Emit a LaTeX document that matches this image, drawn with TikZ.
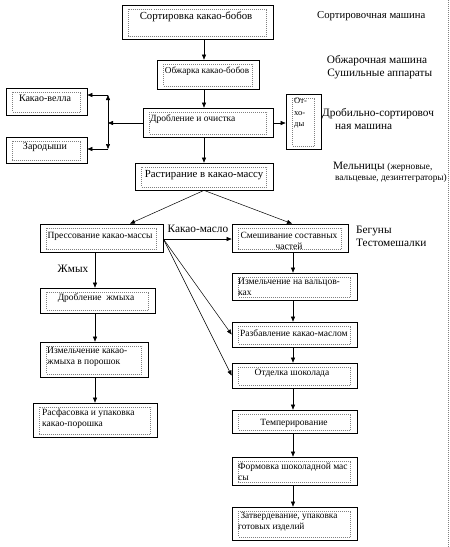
\documentclass[tikz,border=0pt]{standalone}
\usepackage{fontspec}
\setmainfont{Liberation Serif}
\newfontfamily\diagfont{Liberation Serif}
\usetikzlibrary{arrows.meta,calc}
\newcommand\mybox[5]{\node[procbox, minimum width={#4pt-#2pt}, minimum height={#5pt-#3pt}] (#1) at ({(#2+#4)/2},{(#3+#5)/2}) {};}
\tikzset{
  procbox/.style={draw, line width=0.75pt, inner sep=0pt,
    path picture={\draw[gray, line width=0.4pt, dash pattern=on 1pt off 1pt]
      ([shift={(6.5pt,-4pt)}]path picture bounding box.north west) rectangle
      ([shift={(-6.5pt,3pt)}]path picture bounding box.south east);}},
  txt/.style={font=\diagfont\fontsize{9.5}{11}\selectfont, inner sep=0pt},
  bigtxt/.style={font=\diagfont\fontsize{10.8}{12}\selectfont, inner sep=0pt},
  ltxt/.style={txt, anchor=north west, align=left},
  lab/.style={font=\diagfont\fontsize{11.3}{13}\selectfont, inner sep=0pt},
  arr/.style={-{Triangle[length=5pt,width=4pt]}, line width=0.5pt},
  ln/.style={line width=0.5pt}
}
\begin{document}
\begin{tikzpicture}[x=1pt,y=-1pt]
\useasboundingbox (0,0) rectangle (450,547);
\draw[gray, dash pattern=on 1pt off 1pt] (448,0) -- (448,547);
% boxes
\mybox{b1}{122}{5}{273}{39}
\mybox{b2}{157}{60}{259}{89}
\mybox{bv}{6}{88}{87}{115}
\mybox{bz}{6}{137}{87}{163}
\mybox{b3}{143}{108}{273}{137}
\mybox{bo}{286}{94}{321}{149}
\mybox{b4}{135}{163}{273}{190}
\mybox{bp}{40}{224}{163}{252}
\mybox{bs}{232}{224}{348}{252}
\mybox{bdz}{40}{288}{155}{313}
\mybox{bik}{40}{342}{148}{377}
\mybox{brf}{33}{403}{157}{437}
\mybox{biv}{232}{273}{357}{300}
\mybox{brz}{232}{322}{357}{347}
\mybox{bot}{232}{363}{357}{388}
\mybox{btm}{232}{410}{357}{433}
\mybox{bfm}{232}{457}{357}{485}
\mybox{bzt}{232}{507}{357}{540}
% box texts
\node[bigtxt] (t1) at (196,17) {Сортировка какао-бобов};
\node[txt, font=\diagfont\fontsize{9.2}{11}\selectfont] (t2) at (207,71) {Обжарка какао-бобов};
\node[txt, font=\diagfont\fontsize{10}{11}\selectfont] (tv) at (45,98) {Какао-велла};
\node[txt, font=\diagfont\fontsize{10}{11}\selectfont] (tz) at (45,147) {Зародыши};
\node[txt, anchor=west] (t3) at (150,119) {Дробление и очистка};
\node[ltxt, font=\diagfont\fontsize{8.5}{11.5}\selectfont] (to) at (294,98) {От-\\хо-\\ды};
\node[bigtxt] (t4) at (204,175) {Растирание в какао-массу};
\node[txt] (tp) at (100,236) {Прессование какао-массы};
\node[txt, align=center] (ts) at (289,241) {Смешивание составных\\частей};
\node[txt] (tdz) at (96,298) {Дробление \ жмыха};
\node[ltxt] (tik) at (47,347) {Измельчение какао-\\жмыха в порошок};
\node[ltxt] (trf) at (42,409) {Расфасовка и упаковка\\какао-порошка};
\node[ltxt] (tiv) at (238,278) {Измельчение на вальцов-\\ках};
\node[txt, anchor=west] (trz) at (240,333) {Разбавление какао-маслом};
\node[txt] (tot) at (292,373) {Отделка шоколада};
\node[txt] (ttm) at (294,423) {Темперирование};
\node[ltxt] (tfm) at (238,463) {Формовка шоколадной мас\\сы};
\node[ltxt, font=\diagfont\fontsize{9.3}{11}\selectfont] (tzt) at (238,512) {\ Затвердевание, упаковка\\готовых изделий};
% right labels
\node[lab, anchor=west, font=\diagfont\fontsize{10.7}{12}\selectfont] (l1) at (317,16) {Сортировочная машина};
\node[lab, align=center] (l2) at (377,67) {Обжарочная машина\\\ \ Сушильные аппараты};
\node[lab, align=left, anchor=west] (l3) at (322,119) {Дробильно-сортировоч\\\hspace{13pt}ная машина};
\node[lab, anchor=west] (l4) at (333,167) {Мельницы {\fontsize{9.3}{10}\selectfont(жерновые,}};
\node[lab, anchor=west, font=\diagfont\fontsize{9.3}{10}\selectfont] (l4b) at (335,178) {вальцевые, дезинтеграторы)};
\node[lab] (lkm) at (198,229) {Какао-масло};
\node[lab, anchor=west, align=left] (l5) at (356,236) {Бегуны\\Тестомешалки};
\node[lab] (lzh) at (73,269) {Жмых};
% connectors
\coordinate (ax) at (204,0);
\coordinate (lx) at (95,0);
\coordinate (rx) at (293,0);
\coordinate (jn) at (108,123);
\coordinate (jt) at (108,95);
\coordinate (jb) at (108,149);
\draw[arr] (b1.south -| ax) -- (b2.north -| ax);
\draw[arr] (b2.south -| ax) -- (b3.north -| ax);
\draw[arr] (b3.south -| ax) -- (b4.north -| ax);
\draw[arr] (b3.west |- jn) -- (jn);
\draw[arr] (jn) -- (jt);
\draw[arr] (jn) -- (jb);
\draw[arr] (jt) -- (jt -| bv.east);
\draw[arr] (jb) -- (jb -| bz.east);
\draw[arr] (b3.east |- jn) -- (bo.west |- jn);
\coordinate (pt) at (130,0);
\coordinate (st) at (292,0);
\draw[arr] (b4.south -| ax) -- (bp.north -| pt);
\draw[arr] (b4.south -| ax) -- (bs.north -| st);
\coordinate (kmy) at (0,239);
\draw[arr] (bp.east |- kmy) -- (bs.west |- kmy);
\draw[arr] (bp.east |- kmy) -- (brz.west);
\draw[arr] (bp.east |- kmy) -- (bot.west);
\draw[arr] (bp.south -| lx) -- (bdz.north -| lx);
\draw[arr] (bdz.south -| lx) -- (bik.north -| lx);
\draw[arr] (bik.south -| lx) -- (brf.north -| lx);
\draw[arr] (bs.south -| rx) -- (biv.north -| rx);
\draw[arr] (biv.south -| rx) -- (brz.north -| rx);
\draw[arr] (brz.south -| rx) -- (bot.north -| rx);
\draw[arr] (bot.south -| rx) -- (btm.north -| rx);
\draw[arr] (btm.south -| rx) -- (bfm.north -| rx);
\draw[arr] (bfm.south -| rx) -- (bzt.north -| rx);
\end{tikzpicture}
\end{document}
